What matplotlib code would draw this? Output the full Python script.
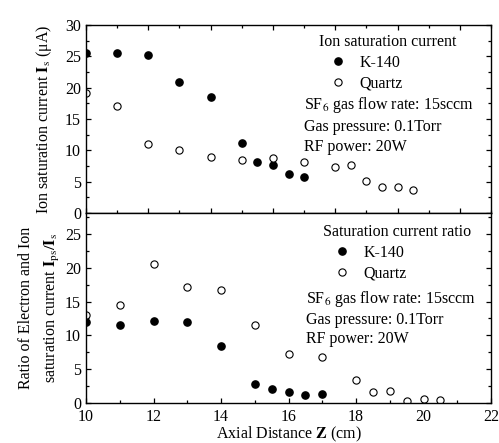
import matplotlib
matplotlib.use('Agg')
import matplotlib.pyplot as plt
from matplotlib.ticker import MultipleLocator

plt.rcParams['font.family'] = ['Liberation Serif', 'DejaVu Serif']
plt.rcParams['mathtext.fontset'] = 'stix'
plt.rcParams['font.size'] = 11.5

# top panel: ion saturation current (uA), x in panel units
top_k_x = [0, 1, 2, 3, 4, 5, 5.5, 6, 6.5, 7]
top_k_y = [25.5, 25.5, 25.2, 20.9, 18.5, 11.1, 8.1, 7.6, 6.3, 5.7]
top_q_x = [0, 1, 2, 3, 4, 5, 6, 7, 8, 8.5, 9, 9.5, 10, 10.5]
top_q_y = [19.1, 17.0, 11.0, 10.0, 9.0, 8.4, 8.8, 8.1, 7.3, 7.7, 5.1, 4.1, 4.1, 3.7]

# bottom panel: saturation current ratio vs axial distance (cm)
bot_k_x = [10, 11, 12, 13, 14, 15, 15.5, 16, 16.5, 17]
bot_k_y = [12.0, 11.5, 12.2, 12.0, 8.4, 2.8, 2.1, 1.7, 1.2, 1.3]
bot_q_x = [10, 11, 12, 13, 14, 15, 16, 17, 18, 18.5, 19, 19.5, 20, 20.5]
bot_q_y = [13.0, 14.5, 20.6, 17.2, 16.7, 11.5, 7.3, 6.8, 3.45, 1.7, 1.8, 0.35, 0.6, 0.4]

W, H = 499, 443
fig = plt.figure(figsize=(W / 100, H / 100), dpi=100)
ax1 = fig.add_axes([86 / W, 1 - 213 / H, 405 / W, 188 / H])
ax2 = fig.add_axes([86 / W, 1 - 403 / H, 405 / W, 190 / H])

mk = dict(linestyle='none', marker='o', markersize=5.2)
for ax in (ax1, ax2):
    for s in ax.spines.values():
        s.set_linewidth(1.0)
    ax.tick_params(which='both', direction='in', width=0.9, right=True, labelsize=11.5)
    ax.tick_params(which='major', length=3.5)
    ax.tick_params(which='minor', length=2)

# top panel
ax1.plot(top_k_x, top_k_y, color='black', label='K-140', **mk)
ax1.plot(top_q_x, top_q_y, color='black', mfc='white', mew=0.8, label='Quartz', **mk)
ax1.set_xlim(0, 13)
ax1.set_ylim(0, 30)
ax1.xaxis.set_major_locator(MultipleLocator(2))
ax1.xaxis.set_minor_locator(MultipleLocator(1))
ax1.yaxis.set_major_locator(MultipleLocator(5))
ax1.yaxis.set_minor_locator(MultipleLocator(2.5))
ax1.tick_params(which='both', top=True, labelbottom=False)
ax1.set_ylabel(r'Ion saturation current $\mathbf{I}_\mathrm{s}$ (μA)', labelpad=8)

# bottom panel
ax2.plot(bot_k_x, bot_k_y, color='black', label='K-140', **mk)
ax2.plot(bot_q_x, bot_q_y, color='black', mfc='white', mew=0.8, label='Quartz', **mk)
ax2.set_xlim(10, 22)
ax2.xaxis.set_major_locator(MultipleLocator(2))
ax2.xaxis.set_minor_locator(MultipleLocator(1))
ax2.yaxis.set_minor_locator(MultipleLocator(2.5))
ax2.tick_params(which='both', top=False)
ax2.tick_params(axis='x', pad=4.5)
ax2.set_ylim(0, 28.1)
ax2.set_yticks([0, 5, 10, 15, 20, 25])
ax2.set_xlabel(r'Axial Distance $\mathbf{Z}$ (cm)', labelpad=0)
ax2.set_ylabel('Ratio of Electron and Ion\n'
               + r'saturation current $\mathbf{I}_\mathrm{ps}/\mathbf{I}_\mathrm{s}$',
               labelpad=2, linespacing=1.75)

# legends: title text plus marker entries
for ax, title, tpos, lpos in ((ax1, 'Ion saturation current', (388, 42), (326, 55)),
                              (ax2, 'Saturation current ratio', (397, 232), (330, 245))):
    fig.text(tpos[0] / W, 1 - tpos[1] / H, title, ha='center', va='center')
    ax.legend(loc='upper left', bbox_to_anchor=(lpos[0] / W, 1 - lpos[1] / H),
              bbox_transform=fig.transFigure, frameon=False, borderpad=0,
              borderaxespad=0, handletextpad=0.62, labelspacing=0.28,
              handlelength=1.5, fontsize=11.5)

# condition notes
notes = ['SF$_6$ gas flow rate: 15sccm', 'Gas pressure: 0.1Torr', 'RF power: 20W']
for ys, x0 in (([105, 127, 147], 304), ([299, 320, 339], 306)):
    for txt, y in zip(notes, ys):
        fig.text(x0 / W, 1 - y / H, txt, ha='left', va='center', fontsize=11.5)

fig.savefig('out.png', dpi=100)
